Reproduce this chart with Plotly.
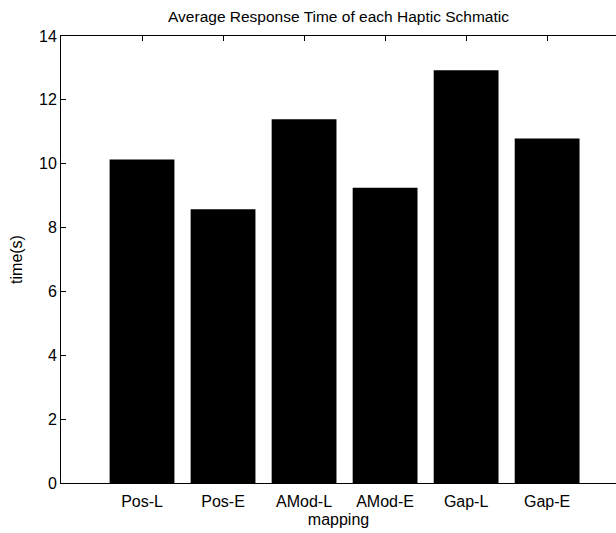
import plotly.graph_objects as go

categories = ["Pos-L", "Pos-E", "AMod-L", "AMod-E", "Gap-L", "Gap-E"]
positions = [1, 2, 3, 4, 5, 6]
times = [10.13, 8.57, 11.39, 9.25, 12.93, 10.79]

font = dict(family="Liberation Sans, Arial, sans-serif", size=16, color="black")

fig = go.Figure(go.Bar(
    x=positions, y=times, width=0.8,
    marker=dict(color="black", line=dict(width=0)),
))

fig.update_layout(
    width=616, height=533,
    margin=dict(l=61, r=0, t=36, b=50),
    paper_bgcolor="white", plot_bgcolor="white",
    showlegend=False,
    font=font,
    title=dict(text="Average Response Time of each Haptic Schmatic",
               x=0.5, xref="paper", xanchor="center",
               y=1 - 17 / 533, yref="container", yanchor="middle",
               font=dict(size=15.5)),
)

fig.update_xaxes(
    range=[0, 6.85], tickvals=positions, ticktext=categories,
    ticks="inside", ticklen=5, tickcolor="black", tickwidth=1,
    showline=True, linecolor="black", linewidth=1, mirror="ticks",
    showgrid=False, zeroline=False,
    tickfont=dict(size=16), ticklabelstandoff=4,
    title=dict(text="mapping", standoff=4, font=dict(size=16)),
)
fig.update_yaxes(
    range=[0, 14], tickvals=[0, 2, 4, 6, 8, 10, 12, 14],
    ticks="inside", ticklen=5, tickcolor="black", tickwidth=1,
    showline=True, linecolor="black", linewidth=1, mirror=False,
    showgrid=False, zeroline=False,
    tickfont=dict(size=16),
    title=dict(text="time(s)", standoff=12, font=dict(size=16)),
)

fig.write_html("out.html")
